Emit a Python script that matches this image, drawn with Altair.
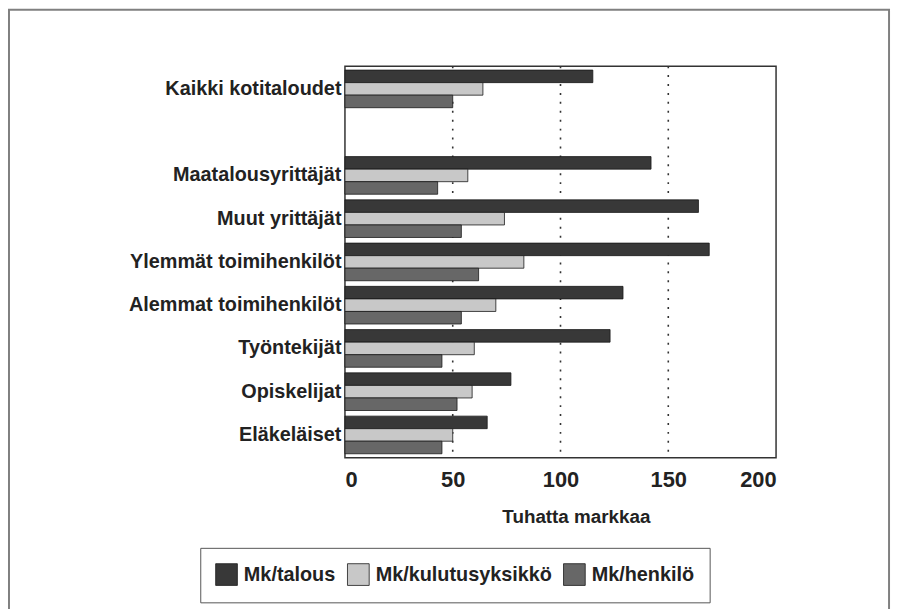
import altair as alt
import pandas as pd

categories = [
    "Kaikki kotitaloudet",
    "Maatalousyrittäjät",
    "Muut yrittäjät",
    "Ylemmät toimihenkilöt",
    "Alemmat toimihenkilöt",
    "Työntekijät",
    "Opiskelijat",
    "Eläkeläiset",
]
series = ["Mk/talous", "Mk/kulutusyksikkö", "Mk/henkilö"]
mk_talous = [115, 142, 164, 169, 129, 123, 77, 66]
mk_kulutusyksikko = [64, 57, 74, 83, 70, 60, 59, 50]
mk_henkilo = [50, 43, 54, 62, 54, 45, 52, 45]
x_ticks = [0, 50, 100, 150, 200]
grid_values = [50, 100, 150]

# order on the y axis, with an empty slot after the first group
y_domain = [categories[0], " "] + categories[1:]

rows = []
for i, c in enumerate(categories):
    for s, vals in zip(series, [mk_talous, mk_kulutusyksikko, mk_henkilo]):
        rows.append({"ryhma": c, "sarja": s, "arvo": vals[i]})
df = pd.DataFrame(rows)

FONT = "Liberation Sans"
TXT = "#222222"

x_scale = alt.Scale(domain=[0, 200], nice=False, zero=True)
x_axis = alt.Axis(
    values=x_ticks,
    title="Tuhatta markkaa",
    titleX=233,
    titleAlign="center",
    grid=False,
    ticks=False,
    domain=False,
    labelFontSize=22,
    labelFont=FONT,
    labelFontWeight="bold",
    labelColor=TXT,
    labelPadding=12,
    titleFontSize=19,
    titleFont=FONT,
    titleFontWeight="bold",
    titleColor=TXT,
    titlePadding=17,
)

# dotted gridlines only at the inner ticks
grid = alt.Chart(pd.DataFrame({"g": grid_values})).mark_rule(
    color="#333333", strokeDash=[2, 7], strokeWidth=1.6
).encode(x=alt.X("g:Q", scale=x_scale, axis=x_axis))

bars = alt.Chart(df).mark_bar(stroke="#1a1a1a", strokeWidth=0.8).encode(
    x=alt.X("arvo:Q", scale=x_scale, axis=x_axis),
    y=alt.Y(
        "ryhma:N",
        scale=alt.Scale(domain=y_domain, paddingInner=0.13, paddingOuter=0.09),
        axis=alt.Axis(
            title=None,
            ticks=False,
            domain=False,
            grid=False,
            labelFontSize=20,
            labelFont=FONT,
            labelFontWeight="bold",
            labelColor=TXT,
            labelPadding=4,
            labelLimit=300,
        ),
    ),
    yOffset=alt.YOffset("sarja:N", sort=series, scale=alt.Scale(domain=series, paddingInner=0, paddingOuter=0)),
    color=alt.Color(
        "sarja:N",
        scale=alt.Scale(domain=series, range=["#383838", "#c8c8c8", "#676767"]),
        legend=alt.Legend(
            title=None,
            orient="none",
            legendX=-146,
            legendY=486,
            direction="horizontal",
            strokeColor="#555555",
            padding=15,
            symbolType="square",
            symbolSize=480,
            symbolStrokeColor="#1a1a1a",
            symbolStrokeWidth=0.8,
            labelFontSize=20,
            labelFont=FONT,
            labelFontWeight="bold",
            labelColor=TXT,
            labelOffset=6,
            labelLimit=300,
            columnPadding=9,
        ),
    ),
)

frame = alt.Chart(alt.Data(values=[{"k": 1}])).mark_rect(
    fill="transparent", stroke="#808080", strokeWidth=2
).encode(
    x=alt.value(-339), x2=alt.value(549), y=alt.value(-57), y2=alt.value(560)
)

chart = (
    alt.layer(frame, grid, bars)
    .properties(
        width=435,
        height=395,
        autosize=alt.AutoSizeParams(type="none"),
        padding={"left": 340, "top": 56, "right": 118, "bottom": 150},
    )
    .configure(background="white")
    .configure_view(stroke="#333333", strokeWidth=1.5)
)

chart.save("out.html", embed_options={"renderer": "svg", "actions": False})
